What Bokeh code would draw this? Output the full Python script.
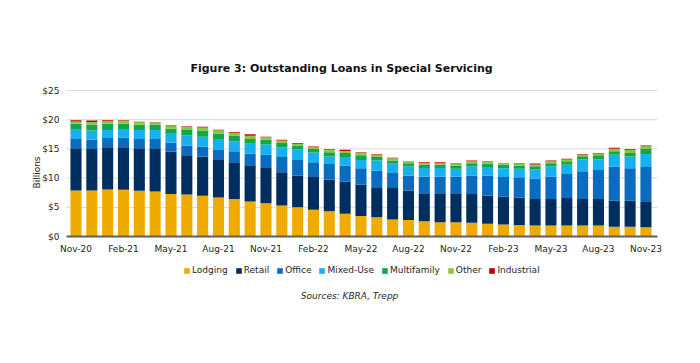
import numpy as np
from bokeh.plotting import figure
from bokeh.models import (ColumnDataSource, Range1d, FixedTicker, Legend, LegendItem,
                          Label, PrintfTickFormatter)
from bokeh.embed import file_html
from bokeh.resources import INLINE

months = ["Nov-20", "Dec-20", "Jan-21", "Feb-21", "Mar-21", "Apr-21", "May-21", "Jun-21",
          "Jul-21", "Aug-21", "Sep-21", "Oct-21", "Nov-21", "Dec-21", "Jan-22", "Feb-22",
          "Mar-22", "Apr-22", "May-22", "Jun-22", "Jul-22", "Aug-22", "Sep-22", "Oct-22",
          "Nov-22", "Dec-22", "Jan-23", "Feb-23", "Mar-23", "Apr-23", "May-23", "Jun-23",
          "Jul-23", "Aug-23", "Sep-23", "Oct-23", "Nov-23"]

lodging = [7.9, 7.9, 8.05, 8.0, 7.85, 7.7, 7.3, 7.2, 7.0, 6.7, 6.45, 6.0, 5.7, 5.3, 5.0, 4.6,
           4.35, 3.9, 3.5, 3.3, 2.9, 2.85, 2.6, 2.45, 2.45, 2.35, 2.2, 2.05, 2.0, 1.9, 1.9,
           1.9, 1.9, 1.9, 1.7, 1.7, 1.6]
retail = [7.2, 7.1, 7.25, 7.3, 7.25, 7.3, 7.25, 6.7, 6.7, 6.4, 6.25, 6.2, 6.05, 5.7, 5.45, 5.6,
          5.4, 5.5, 5.4, 5.0, 5.4, 5.05, 4.8, 4.95, 4.95, 4.95, 4.8, 4.8, 4.7, 4.55, 4.55,
          4.7, 4.55, 4.55, 4.45, 4.45, 4.45]
office = [1.6, 1.55, 1.55, 1.6, 1.6, 1.7, 1.55, 1.7, 1.7, 1.7, 1.9, 2.0, 2.25, 2.6, 2.65, 2.5,
          2.65, 2.75, 2.8, 3.0, 2.6, 2.55, 2.9, 2.9, 2.9, 3.15, 3.45, 3.35, 3.45, 3.45, 3.85,
          4.1, 4.75, 4.95, 5.85, 5.55, 5.85]
mixed_use = [1.6, 1.6, 1.4, 1.5, 1.55, 1.55, 1.5, 1.7, 1.7, 1.9, 1.7, 1.7, 1.75, 1.7, 1.8, 1.7,
             1.3, 1.45, 1.4, 1.7, 1.55, 1.55, 1.45, 1.45, 1.3, 1.6, 1.45, 1.5, 1.45, 1.6, 1.75,
             1.6, 2.0, 1.8, 2.0, 2.0, 2.25]
multifamily = [1.0, 1.05, 1.05, 0.9, 0.9, 0.95, 0.85, 0.95, 1.05, 0.9, 1.0, 0.8, 0.8, 0.7, 0.7,
               0.6, 0.75, 0.7, 0.8, 0.6, 0.55, 0.55, 0.55, 0.55, 0.55, 0.5, 0.55, 0.6, 0.55,
               0.55, 0.5, 0.6, 0.55, 0.7, 0.6, 0.6, 0.85]
other = [0.4, 0.4, 0.45, 0.55, 0.45, 0.35, 0.5, 0.55, 0.5, 0.6, 0.45, 0.55, 0.45, 0.45, 0.3,
         0.35, 0.45, 0.35, 0.45, 0.45, 0.4, 0.3, 0.3, 0.25, 0.3, 0.35, 0.3, 0.25, 0.3, 0.3,
         0.35, 0.3, 0.3, 0.3, 0.45, 0.55, 0.45]
industrial = [0.2, 0.25, 0.15, 0.1, 0.05, 0.05, 0.1, 0.1, 0.15, 0.1, 0.15, 0.25, 0.1, 0.1, 0.1,
              0.05, 0.1, 0.2, 0.1, 0.1, 0.1, 0.05, 0.1, 0.15, 0.1, 0.1, 0.1, 0.05, 0.1, 0.15,
              0.1, 0.1, 0.1, 0.1, 0.15, 0.15, 0.15]

series = ["Lodging", "Retail", "Office", "Mixed-Use", "Multifamily", "Other", "Industrial"]
colors = ["#F0AB00", "#002F5F", "#0A6CBF", "#16B1EE", "#10A84C", "#8CC63F", "#C00000"]
y_ticks = [0, 5, 10, 15, 20, 25]
label_step = 3

x = list(range(len(months)))
source = ColumnDataSource(dict(x=x, Lodging=lodging, Retail=retail, Office=office,
                               **{"Mixed-Use": mixed_use}, Multifamily=multifamily,
                               Other=other, Industrial=industrial))

# extent of the plotting area (axis line and grid lines), in category-index units
x_lo, x_hi = -0.6, len(months) - 0.27

# The frame is extended around the bar area so that the title, legend, source
# note and end tick labels (drawn inside the frame) are not clipped.
p = figure(width=684, height=347, output_backend="svg", toolbar_location=None,
           x_range=Range1d(-1.105, len(months) + 0.172), y_range=Range1d(-11.8, 33.73),
           min_border_left=58, min_border_right=20, min_border_top=39, min_border_bottom=42,
           background_fill_color="white", border_fill_color="white")

# horizontal grid lines limited to the plotting area
p.segment(x0=[x_lo] * len(y_ticks), x1=[x_hi] * len(y_ticks), y0=y_ticks, y1=y_ticks,
          line_color="#d9d9d9", line_width=1, level="underlay")

renderers = p.vbar_stack(series, x="x", width=0.7, fill_color=colors, line_color=None,
                         source=source)

FONT = "DejaVu Sans"
TXT = "#262626"

# axes
p.yaxis.ticker = FixedTicker(ticks=y_ticks)
p.yaxis.formatter = PrintfTickFormatter(format="$%d")
p.yaxis.axis_line_color = None
p.yaxis.major_tick_line_color = None
p.yaxis.minor_tick_line_color = None
p.yaxis.major_label_standoff = -7
p.yaxis.axis_label = "Billions"
p.yaxis.axis_label_standoff = -3
p.yaxis.axis_label_text_font = FONT
p.yaxis.axis_label_text_font_size = "9px"
p.yaxis.axis_label_text_font_style = "normal"
p.yaxis.axis_label_text_color = TXT

ticks = list(range(0, len(months), label_step))
p.xaxis.ticker = FixedTicker(ticks=ticks)
p.xaxis.major_label_overrides = {i: months[i] for i in ticks}
p.xaxis.fixed_location = 0
p.xaxis.bounds = (x_lo, x_hi)
p.xaxis.major_tick_line_color = None
p.xaxis.minor_tick_line_color = None
p.xaxis.axis_line_color = "#5f5f5f"
p.xaxis.axis_line_width = 2
p.xaxis.major_label_standoff = 1

for ax in (p.xaxis, p.yaxis):
    ax.major_label_text_font = FONT
    ax.major_label_text_font_size = "9px"
    ax.major_label_text_color = TXT

p.xgrid.grid_line_color = None
p.ygrid.grid_line_color = None
p.outline_line_color = None

title = Label(x=16.77, y=28.77, text="Figure 3: Outstanding Loans in Special Servicing",
              text_align="center", text_baseline="middle", text_font=FONT,
              text_font_size="11px", text_font_style="bold", text_color="#111111")
p.add_layout(title)

legend = Legend(items=[LegendItem(label=s, renderers=[r]) for s, r in zip(series, renderers)],
                orientation="horizontal", location=(125, 29),
                glyph_width=7, glyph_height=7, label_standoff=2, spacing=7,
                padding=0, margin=0, label_height=12,
                label_text_font=FONT, label_text_font_size="9px", label_text_color=TXT,
                border_line_color=None, background_fill_alpha=0)
p.add_layout(legend)

src = Label(x=17.28, y=-10.1, text="Sources: KBRA, Trepp", text_align="center",
            text_baseline="middle", text_font=FONT, text_font_size="9px",
            text_font_style="italic", text_color=TXT)
p.add_layout(src)

open("out.html", "w").write(file_html(p, INLINE))
